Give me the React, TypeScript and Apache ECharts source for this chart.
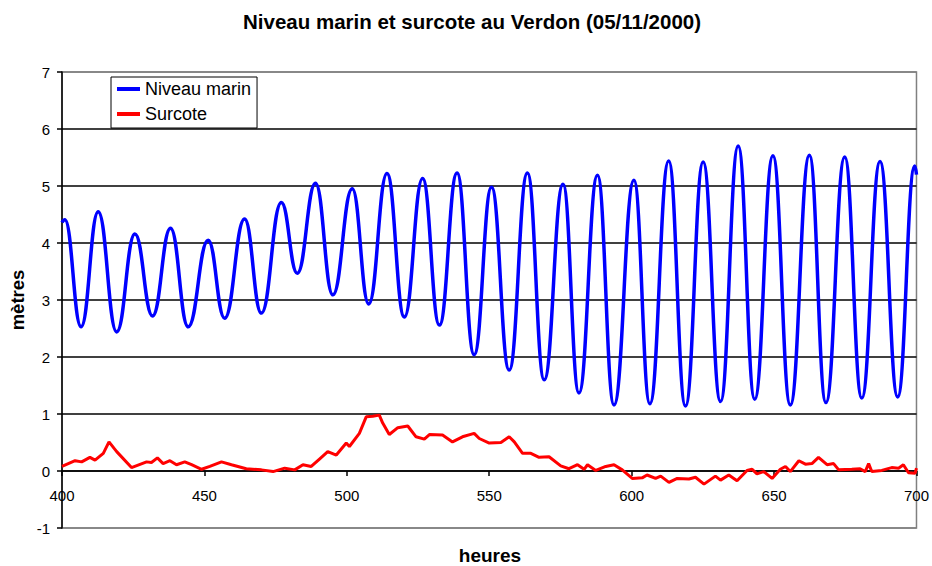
import React, { useEffect, useRef } from "react";
import * as echarts from "echarts";

// Niveau marin (extrema), hours and metres
const niveauHours = [
  400, 401, 406.7, 412.7, 419.2, 425.6, 431.8, 438.1, 444.3, 451.3, 457.1, 464.1, 470.0,
  477.0, 482.6, 489.0, 495.1, 501.9, 507.7, 514.1, 520.2, 526.6, 532.5, 538.7, 544.7,
  550.8, 557.0, 563.4, 569.3, 575.9, 581.5, 588.0, 593.8, 600.8, 606.4, 613.0, 618.9,
  625.1, 631.2, 637.4, 643.2, 649.6, 655.7, 662.4, 668.2, 674.8, 680.8, 687.2, 693.4,
  699.4, 700,
];
const niveauValues = [
  4.36, 4.41, 2.53, 4.55, 2.44, 4.16, 2.72, 4.26, 2.53, 4.05, 2.68, 4.42, 2.77,
  4.71, 3.47, 5.05, 3.09, 4.95, 2.93, 5.22, 2.7, 5.13, 2.56, 5.23, 2.04,
  4.98, 1.77, 5.23, 1.6, 5.03, 1.37, 5.19, 1.16, 5.1, 1.18, 5.44, 1.14,
  5.42, 1.22, 5.7, 1.26, 5.53, 1.16, 5.54, 1.2, 5.51, 1.28, 5.43, 1.3,
  5.35, 5.2,
];

// Surcote
const surcoteHours = [
  400, 404.6, 406.9, 409.8, 411.6, 414.5, 416.5, 419.2, 424.4, 429.7, 431.4, 433.5, 435.5,
  437.9, 440.2, 443.1, 445.5, 449.0, 451.9, 456.0, 459.5, 464.7, 470.0, 474.1, 478.2,
  481.7, 484.6, 487.5, 490.4, 493.3, 496.3, 499.8, 500.9, 504.4, 506.8, 509.1, 511.4,
  512.6, 514.9, 517.9, 521.4, 524.3, 527.2, 529.0, 533.6, 537.1, 540.6, 544.7, 546.5,
  550.0, 554.1, 557.0, 558.8, 561.7, 564.6, 567.5, 571.0, 575.1, 578.0, 581.0, 583.3,
  584.5, 587.4, 590.9, 593.8, 596.7, 600.2, 603.7, 605.4, 608.4, 610.2, 613.1, 616.0,
  620.1, 622.4, 625.4, 629.4, 631.2, 634.1, 637.0, 640.5, 642.3, 644.0, 646.4, 649.3,
  652.2, 654.0, 655.7, 658.7, 661.0, 663.3, 665.6, 668.6, 670.9, 672.7, 677.3, 680.2,
  682.0, 683.2, 684.3, 687.8, 691.3, 693.7, 695.4, 697.2, 699.5, 700,
];
const surcoteValues = [
  0.08, 0.18, 0.16, 0.24, 0.19, 0.31, 0.51, 0.34, 0.06, 0.16, 0.15, 0.23, 0.13,
  0.18, 0.11, 0.16, 0.11, 0.03, 0.08, 0.16, 0.11, 0.04, 0.02, -0.01, 0.05,
  0.02, 0.11, 0.08, 0.21, 0.34, 0.28, 0.49, 0.43, 0.66, 0.95, 0.96, 0.98,
  0.84, 0.64, 0.76, 0.79, 0.6, 0.56, 0.64, 0.63, 0.51, 0.6, 0.66, 0.57,
  0.49, 0.5, 0.6, 0.51, 0.31, 0.31, 0.24, 0.25, 0.09, 0.04, 0.11, 0.03,
  0.11, 0.01, 0.08, 0.11, 0.02, -0.13, -0.12, -0.07, -0.13, -0.09, -0.2, -0.13,
  -0.14, -0.11, -0.23, -0.09, -0.16, -0.07, -0.17, 0.01, 0.03, -0.05, -0.01, -0.13,
  0.03, 0.08, -0.01, 0.18, 0.12, 0.13, 0.24, 0.11, 0.13, 0.02, 0.03, 0.04,
  -0.01, 0.13, -0.01, 0.01, 0.06, 0.05, 0.11, -0.03, -0.04, 0.05,
];

const seriesNames = ["Niveau marin", "Surcote"];
const titleText = "Niveau marin et surcote au Verdon (05/11/2000)";
const xName = "heures";
const yName = "mètres";

const FONT = "'Liberation Sans', Arial, sans-serif";

export default function App() {
  const ref = useRef<HTMLDivElement>(null);
  useEffect(() => {
    document.body.style.margin = "0";
    if (!ref.current) return;
    const chart = echarts.init(ref.current, undefined, { renderer: "svg" });
    const niveau = niveauHours.map((h, i) => [h, niveauValues[i]]);
    const surcote = surcoteHours.map((h, i) => [h, surcoteValues[i]]);
    const splitColors = ["#808080", "#000", "#000", "#000", "#000", "#000", "#000", "#000", "#808080"];
    chart.setOption({
      animation: false,
      backgroundColor: "#fff",
      textStyle: { fontFamily: FONT },
      grid: {
        left: 62,
        top: 72,
        right: 14,
        bottom: 38,
        show: true,
        borderColor: "#808080",
        borderWidth: 1.5,
        backgroundColor: "transparent",
      },
      legend: {
        orient: "vertical",
        left: 111,
        top: 77,
        padding: [3, 6, 5, 6],
        itemGap: 7,
        itemWidth: 23,
        itemHeight: 4,
        icon: "rect",
        borderColor: "#000",
        borderWidth: 1,
        backgroundColor: "#fff",
        textStyle: { fontSize: 18, color: "#000", fontFamily: FONT },
        data: seriesNames,
      },
      xAxis: {
        type: "value",
        min: 400,
        max: 700,
        interval: 50,
        offset: -57,
        axisLine: { show: true, onZero: false, lineStyle: { color: "#000", width: 1.5 } },
        axisTick: { show: true, length: 5, lineStyle: { color: "#000", width: 1.5 } },
        axisLabel: { fontSize: 15, color: "#000", margin: 17, fontFamily: FONT },
        splitLine: { show: false },
      },
      yAxis: {
        type: "value",
        min: -1,
        max: 7,
        interval: 1,
        axisLine: { show: true, onZero: false, lineStyle: { color: "#000", width: 1.5 } },
        axisTick: { show: true, length: 5, lineStyle: { color: "#000", width: 1.5 } },
        axisLabel: { fontSize: 15, color: "#000", margin: 12, fontFamily: FONT },
        splitLine: { show: true, lineStyle: { color: splitColors, width: 1.5 } },
      },
      graphic: [
        {
          type: "text",
          x: 472,
          y: 21,
          style: {
            text: titleText,
            fontSize: 20.5,
            fontWeight: "bold",
            fontFamily: FONT,
            fill: "#000",
            align: "center",
            verticalAlign: "middle",
          },
        },
        {
          type: "text",
          x: 490,
          y: 555,
          style: {
            text: xName,
            fontSize: 19,
            fontWeight: "bold",
            fontFamily: FONT,
            fill: "#000",
            align: "center",
            verticalAlign: "middle",
          },
        },
        {
          type: "text",
          x: 17,
          y: 300,
          rotation: Math.PI / 2,
          style: {
            text: yName,
            fontSize: 18.5,
            fontWeight: "bold",
            fontFamily: FONT,
            fill: "#000",
            align: "center",
            verticalAlign: "middle",
          },
        },
      ],
      series: [
        {
          name: seriesNames[0],
          type: "line",
          data: niveau,
          smooth: 0.45,
          smoothMonotone: "x",
          showSymbol: false,
          symbol: "none",
          itemStyle: { color: "#0000ff" },
          lineStyle: { color: "#0000ff", width: 3.5 },
          z: 3,
        },
        {
          name: seriesNames[1],
          type: "line",
          data: surcote,
          showSymbol: false,
          symbol: "none",
          itemStyle: { color: "#ff0000" },
          lineStyle: { color: "#ff0000", width: 3 },
          z: 4,
        },
      ],
    });
    return () => chart.dispose();
  }, []);
  return <div ref={ref} style={{ width: 932, height: 566 }} />;
}
